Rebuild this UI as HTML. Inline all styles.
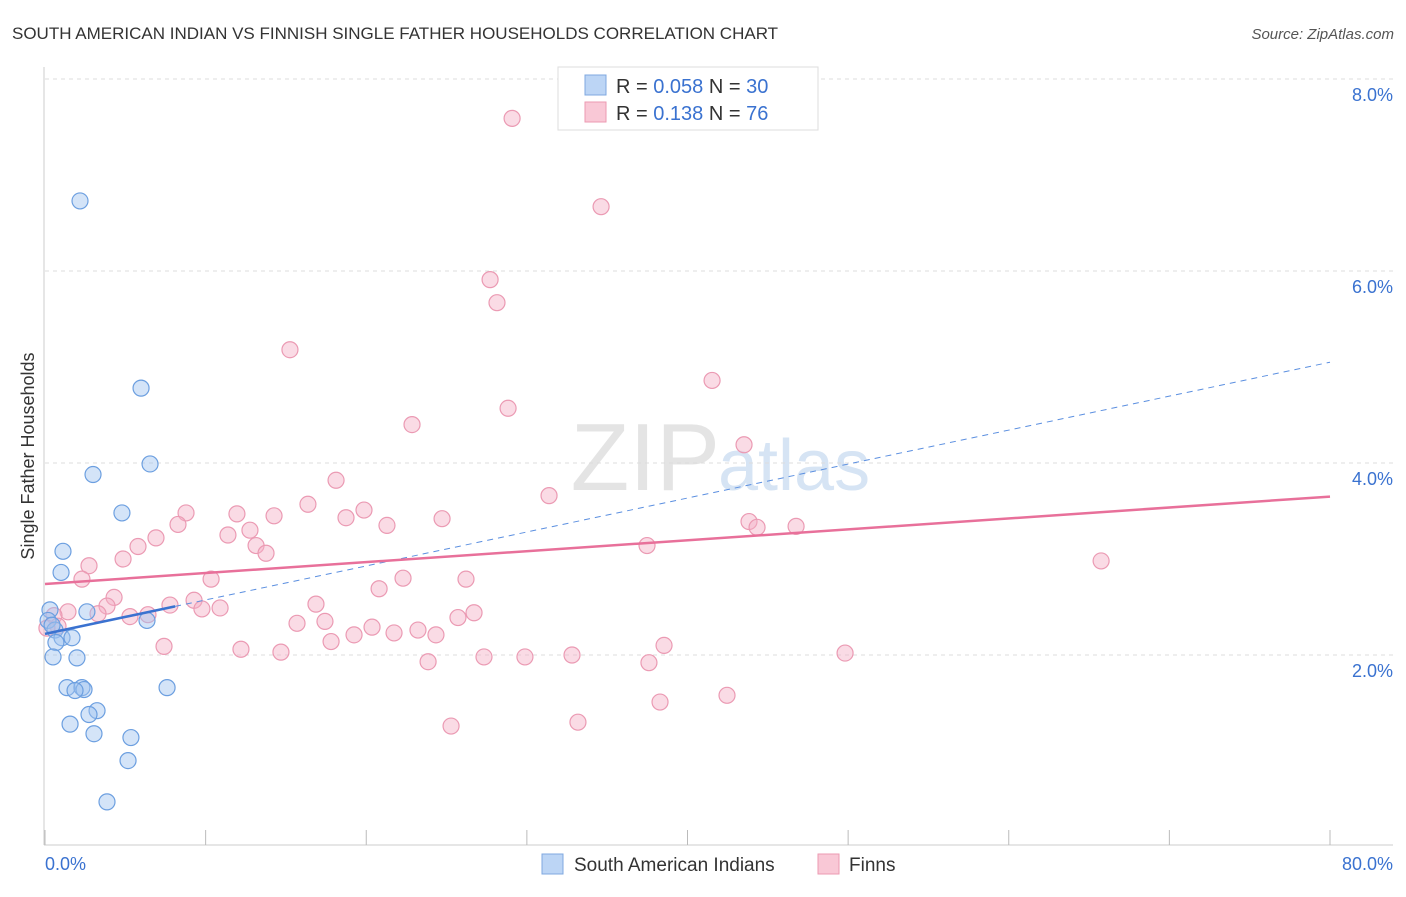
<!DOCTYPE html>
<html><head><meta charset="utf-8">
<style>
body{margin:0;background:#fff;font-family:"Liberation Sans",sans-serif;}
svg text{font-family:"Liberation Sans",sans-serif;}
</style></head>
<body>
<svg id="chart" width="1406" height="892">
<text x="12" y="39" font-size="17" fill="#333">SOUTH AMERICAN INDIAN VS FINNISH SINGLE FATHER HOUSEHOLDS CORRELATION CHART</text>
<text x="1394" y="39" font-size="15" fill="#555" font-style="italic" text-anchor="end">Source: ZipAtlas.com</text>
<text x="720" y="490" font-size="96" fill="#e4e4e4" text-anchor="end" font-family="Liberation Serif">ZIP</text>
<text x="718" y="490" font-size="72" fill="#d6e4f4">atlas</text>
<g id="grid"></g>
<g id="axes"></g>
<g id="points"></g>
<g id="trends"></g>
<text transform="translate(34,456) rotate(-90)" font-size="18" fill="#333" text-anchor="middle">Single Father Households</text>
<g>
<rect x="558" y="67" width="260" height="63" fill="#fff" stroke="#ddd"/>
<rect x="585" y="75" width="21" height="20" fill="#bcd5f5" stroke="#7fa8e0"/>
<rect x="585" y="102" width="21" height="20" fill="#f9c8d6" stroke="#ec9ab2"/>
<text x="616" y="93" font-size="20" fill="#333">R = <tspan fill="#3a72d0">0.058</tspan>   N = <tspan fill="#3a72d0">30</tspan></text>
<text x="616" y="120" font-size="20" fill="#333">R =  <tspan fill="#3a72d0">0.138</tspan>   N =  <tspan fill="#3a72d0">76</tspan></text>
</g>
<g>
<rect x="542" y="854" width="21" height="20" fill="#bcd5f5" stroke="#7fa8e0"/>
<text x="574" y="871" font-size="19" fill="#333">South American Indians</text>
<rect x="818" y="854" width="21" height="20" fill="#f9c8d6" stroke="#ec9ab2"/>
<text x="849" y="871" font-size="19" fill="#333">Finns</text>
</g>
</svg>
<script>
const xTicks=[0,10,20,30,40,50,60,70,80];
const yTicks=[2,4,6,8];
const yTickLabels=["2.0%","4.0%","6.0%","8.0%"];
const blueX=[2.18,5.98,6.54,2.99,4.79,1.12,1.0,0.31,2.61,6.35,0.19,0.62,1.06,1.68,0.68,0.5,1.99,1.37,2.3,2.43,1.87,7.6,3.24,2.74,1.56,3.05,5.35,5.17,3.86,0.44];
const blueY=[6.73,4.78,3.99,3.88,3.48,3.08,2.86,2.47,2.45,2.36,2.36,2.26,2.18,2.18,2.13,1.98,1.97,1.66,1.66,1.64,1.63,1.66,1.42,1.38,1.28,1.18,1.14,0.9,0.47,2.31];
const pinkX=[29.08,34.62,27.71,28.14,15.25,41.53,28.83,22.85,43.52,18.12,31.38,8.78,11.95,14.26,16.37,19.86,18.74,24.72,8.28,43.83,44.33,46.76,21.29,11.39,12.76,6.91,5.79,13.14,13.76,37.48,4.86,65.75,2.74,2.3,10.34,22.29,26.21,20.8,4.3,3.86,7.78,9.28,1.43,3.3,16.87,9.77,10.9,6.41,5.29,26.71,25.71,0.56,0.81,15.69,17.43,20.36,23.22,21.73,24.34,19.24,17.81,7.41,12.2,14.69,38.54,49.81,27.33,29.88,32.81,23.85,37.6,42.46,38.29,33.18,25.28,0.12];
const pinkY=[7.59,6.67,5.91,5.67,5.18,4.86,4.57,4.40,4.19,3.82,3.66,3.48,3.47,3.45,3.57,3.51,3.43,3.42,3.36,3.39,3.33,3.34,3.35,3.25,3.30,3.22,3.13,3.14,3.06,3.14,3.0,2.98,2.93,2.79,2.79,2.80,2.79,2.69,2.6,2.51,2.52,2.57,2.45,2.43,2.53,2.48,2.49,2.42,2.40,2.44,2.39,2.41,2.30,2.33,2.35,2.29,2.26,2.23,2.21,2.21,2.14,2.09,2.06,2.03,2.10,2.02,1.98,1.98,2.0,1.93,1.92,1.58,1.51,1.30,1.26,2.28];
const blueTrend=[2.22,5.05];
const pinkTrend=[2.74,3.65];
const blueSolidEnd=8.1;
const NS="http://www.w3.org/2000/svg";
const X=v=>45+v/80*1285;
const Y=v=>847-v*96;
function mk(tag,attrs,parent){const e=document.createElementNS(NS,tag);for(const k in attrs)e.setAttribute(k,attrs[k]);document.getElementById(parent).appendChild(e);return e;}
yTicks.forEach((t,i)=>{
 const l=mk('line',{x1:45,x2:1393,y1:Y(t),y2:Y(t),stroke:'#ddd','stroke-dasharray':'4,4'},'grid');
 
 
 const tx=mk('text',{x:1393,y:Y(t)+22,'font-size':18,fill:'#3a72d0','text-anchor':'end'},'grid');
 tx.textContent=yTickLabels[i];
 
 
});
const ax=mk('line',{x1:44,x2:44,y1:67,y2:845,stroke:'#ccc'},'axes');


const bx=mk('line',{x1:44,x2:1393,y1:845,y2:845,stroke:'#ccc'},'axes');


xTicks.forEach(t=>{
 const l=mk('line',{x1:X(t),x2:X(t),y1:830,y2:845,stroke:'#bbb'},'axes');
 
 
});
[[0,'0.0%','start',45],[80,'80.0%','end',1393]].forEach(a=>{
 const t=mk('text',{x:a[3],y:870,'font-size':18,fill:'#3a72d0','text-anchor':a[2]},'axes');
 t.textContent=a[1];
 
 
});
pinkX.forEach((v,i)=>{
 const c=mk('circle',{cx:X(v),cy:Y(pinkY[i]),r:8,fill:'rgba(245,176,198,0.45)',stroke:'#eb9ab3','stroke-width':1.2},'points');
 
 
});
blueX.forEach((v,i)=>{
 const c=mk('circle',{cx:X(v),cy:Y(blueY[i]),r:8,fill:'rgba(160,196,240,0.45)',stroke:'#6c9fe0','stroke-width':1.2},'points');
 
 
});
const bAt=x=>blueTrend[0]+(blueTrend[1]-blueTrend[0])*x/80;
let t1=mk('line',{x1:X(blueSolidEnd),y1:Y(bAt(blueSolidEnd)),x2:X(80),y2:Y(blueTrend[1]),stroke:'#5b8fe0','stroke-width':1,'stroke-dasharray':'6,5'},'trends');


let t2=mk('line',{x1:X(0),y1:Y(blueTrend[0]),x2:X(blueSolidEnd),y2:Y(bAt(blueSolidEnd)),stroke:'#3a72d0','stroke-width':2.5},'trends');


let t3=mk('line',{x1:X(0),y1:Y(pinkTrend[0]),x2:X(80),y2:Y(pinkTrend[1]),stroke:'#e8709a','stroke-width':2.5},'trends');


</script>
</body></html>
